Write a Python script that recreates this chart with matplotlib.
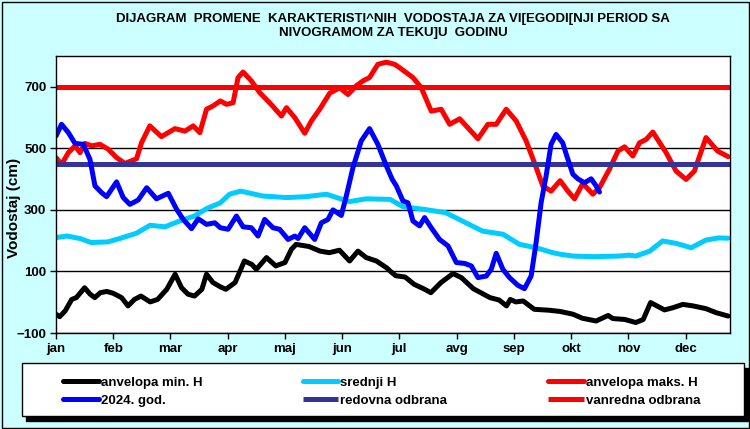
import matplotlib.pyplot as plt
from matplotlib.patches import Rectangle

plt.rcParams['font.family'] = ['Liberation Sans', 'DejaVu Sans']

# dani u godini (0 = 1. januar) i vodostaji u cm
min_dani = [0, 2, 5, 8.5, 11, 15.5, 18.5, 21, 24, 27.5, 31, 35.5, 39, 42.5, 46,
            51, 55, 60, 64.5, 68, 71.5, 75, 79, 81.5, 85, 89, 92, 97, 102, 106,
            108.5, 114, 119, 124, 127.5, 130, 137, 143, 148, 153.5, 159, 163.5,
            168, 173.5, 179, 181, 184, 189, 194, 199, 203, 208.5, 215, 219.5,
            226, 235, 240, 244, 246, 249, 253, 259, 267, 273, 280, 285, 292.5,
            299, 301.5, 308, 314, 318, 322, 329.5, 334, 339.5, 345, 352, 357.5, 364]
min_h = [-39, -47, -28, 9, 15, 47, 26, 15, 31, 35, 29, 15, -12, 9, 20,
         1, 9, 42, 91, 47, 26, 20, 42, 91, 64, 50, 42, 64, 134, 123,
         107, 145, 118, 129, 172, 188, 181, 166, 161, 169, 134, 166,
         145, 134, 112, 101, 86, 82, 58, 44, 31, 64, 93, 80,
         44, 15, 7, -12, 9, 1, 4, -23, -26, -30, -39, -52, -61,
         -43, -53, -56, -66, -56, -1, -25, -18, -7, -12, -21, -34, -45]

sr_dani = [0, 6, 13, 19, 28, 34.5, 43.5, 51, 59, 67, 75, 81.5, 89, 94, 100,
           112, 125, 135.5, 146.5, 152, 159, 168, 181, 188, 199, 211, 220, 231,
           242, 251, 260, 269, 273, 280, 291, 305, 310.5, 314, 321.5, 328.5,
           336, 344, 352, 359, 364]
sr_h = [210, 215, 207, 194, 196, 207, 224, 250, 245, 264, 280, 304, 323, 351, 361,
        345, 340, 343, 351, 340, 327, 336, 334, 310, 302, 291, 264, 231,
        221, 188, 177, 161, 156, 150, 148, 150, 153, 150, 166, 199,
        191, 177, 202, 209, 208]

max_dani = [0, 3, 6.7, 10.3, 13, 15.7, 19.3, 23.8, 28.3, 32.8, 37.3, 43.6, 46.3,
            50.8, 57.1, 64.4, 69.8, 74.3, 77.9, 81.5, 85.1, 89, 92.3, 95.9, 98.6,
            101.3, 105.8, 110.3, 115.7, 122.1, 124.8, 129.3, 134.7, 138.3, 142.8,
            148.2, 153.6, 158.1, 162.6, 166.2, 169.8, 174.3, 178.9, 183.4, 186.1,
            193.3, 197.8, 203.2, 208.6, 213.2, 218.6, 228.5, 233.9, 238.4, 243.8,
            249.2, 254.6, 259.1, 263.6, 268.1, 273, 277.2, 280.8, 285.3, 290.7,
            294.3, 299.7, 304.3, 307.9, 312.4, 316, 319.6, 323.2, 330.4, 335.8,
            341.2, 345.7, 352, 358.3, 364]
max_h = [470, 448, 486, 508, 486, 516, 508, 513, 497, 470, 451, 466, 518,
         573, 538, 564, 556, 573, 551, 627, 638, 654, 643, 648, 730,
         748, 719, 681, 648, 605, 632, 600, 549, 589, 627,
         679, 697, 675, 703, 719, 730, 773, 780, 773, 762,
         730, 697, 621, 627, 578, 596, 531, 578, 578, 627,
         589, 524, 453, 378, 361, 395, 361, 336, 386, 351,
         372, 432, 491, 505, 475, 518, 529, 553, 486, 426,
         399, 426, 535, 491, 473]

g2024_dani = [0, 3, 6.7, 10.3, 14.8, 18.4, 21.1, 24.7, 27.4, 32.8, 36.4, 40, 44.5,
              49.1, 54.4, 60.8, 65.3, 68.9, 73.4, 77, 81.5, 86, 89, 93.2, 97.7,
              101.3, 105.8, 109.4, 113, 117.5, 121.1, 125.7, 129.3, 131.1, 134.7,
              140.1, 143.7, 147.3, 150, 154.5, 157.2, 160.8, 165.3, 169.8, 174.3,
              178.9, 182, 184.3, 187.9, 190.6, 193.3, 196.9, 199.6, 203.2, 207.7,
              212.3, 216.8, 221.3, 224.9, 228.5, 233, 235.7, 238.4, 242, 245.6,
              250.1, 253.7, 257.3, 260, 262.7, 265.4, 268.1, 270.8, 274.4, 276.3,
              279.9, 282.6, 286.2, 289.8, 292.5, 294.3]
g2024_h = [540, 578, 551, 516, 513, 464, 378, 356, 343, 391, 340, 318, 332,
           372, 336, 354, 302, 269, 239, 271, 253, 258, 242, 237, 280,
           245, 242, 215, 269, 242, 237, 204, 215, 207, 242,
           204, 258, 269, 300, 282, 345, 437, 524, 564, 513,
           443, 400, 378, 329, 323, 264, 248, 275, 242, 204,
           183, 129, 126, 118, 80, 85, 107, 159, 107, 80,
           55, 44, 85, 194, 323, 410, 513, 545, 518, 481,
           416, 401, 388, 401, 378, 358]

redovna = 450
vanredna = 700

meseci = ['jan', 'feb', 'mar', 'apr', 'maj', 'jun', 'jul', 'avg', 'sep', 'okt', 'nov', 'dec']
y_ticks = [-100, 100, 300, 500, 700]

W, H = 750, 429
fig = plt.figure(figsize=(W / 100, H / 100), dpi=100, facecolor='#ccffff')
ax = fig.add_axes([56 / W, 1 - 333 / H, (730 - 56) / W, (333 - 56) / H])

lw = 3.6
kw = dict(lw=lw, solid_capstyle='round', solid_joinstyle='round')
l_min, = ax.plot(min_dani, min_h, color='black', label='anvelopa min. H', **kw)
l_sr, = ax.plot(sr_dani, sr_h, color='#00ccff', label='srednji H', **kw)
l_max, = ax.plot(max_dani, max_h, color='#ff0000', label='anvelopa maks. H', **kw)
l_red, = ax.plot([0, 365], [redovna, redovna], color='#333399', lw=lw,
                 solid_capstyle='butt', label='redovna odbrana')
l_van, = ax.plot([0, 365], [vanredna, vanredna], color='#ff0000', lw=lw,
                 solid_capstyle='butt', label='vanredna odbrana')
l_24, = ax.plot(g2024_dani, g2024_h, color='#0000ff', label='2024. god.', **kw)

ax.set_xlim(0, 365)
ax.set_ylim(-100, 800)
ax.set_yticks(y_ticks)
ax.set_xticks([31 * i for i in range(12)])
ax.set_xticklabels(meseci)
ax.tick_params(direction='out', length=4, width=1, labelsize=9.5, pad=3)
for t in ax.get_xticklabels() + ax.get_yticklabels():
    t.set_fontweight('bold')
ax.grid(axis='y', color='black', lw=1)
ax.grid(axis='x', visible=False)
ax.set_axisbelow(True)
for s in ax.spines.values():
    s.set_linewidth(1)

fig.text(14 / W, 1 - 208 / H, 'Vodostaj (cm)', rotation=90, ha='center', va='center',
         fontsize=11, fontweight='bold')

naslov = 'DIJAGRAM  PROMENE  KARAKTERISTI^NIH  VODOSTAJA ZA VI[EGODI[NJI PERIOD SA\nNIVOGRAMOM ZA TEKU]U  GODINU'
fig.text(393 / W, 1 - 26 / H, naslov, ha='center', va='center', fontsize=9.5,
         fontweight='bold', linespacing=1.25,
         family=['Liberation Sans Narrow', 'Liberation Sans', 'DejaVu Sans'])

# okvir slike
fig.patches.append(Rectangle((1.5 / W, 1.5 / H), 1 - 3 / W, 1 - 3 / H, transform=fig.transFigure,
                             fill=False, edgecolor='black', lw=1))
# legenda sa senkom
fig.patches.append(Rectangle((26 / W, 1 - 421 / H), 722 / W, 53 / H, transform=fig.transFigure,
                             facecolor='black', edgecolor='black', lw=1))
fig.patches.append(Rectangle((22 / W, 1 - 416 / H), 722 / W, 53 / H, transform=fig.transFigure,
                             facecolor='white', edgecolor='black', lw=1))

handles = [l_min, l_24, l_sr, l_red, l_max, l_van]
leg = fig.legend(handles=handles, labels=[h.get_label() for h in handles], ncol=3,
                 loc='center', bbox_to_anchor=(63 / W, 1 - 392 / H, (700 - 63) / W, 0.001),
                 mode='expand', frameon=False, borderpad=0, borderaxespad=0,
                 handlelength=2.7, handletextpad=0.15, labelspacing=0.45,
                 prop={'weight': 'bold', 'size': 9.5})

fig.savefig('out.png', dpi=100, facecolor=fig.get_facecolor())
